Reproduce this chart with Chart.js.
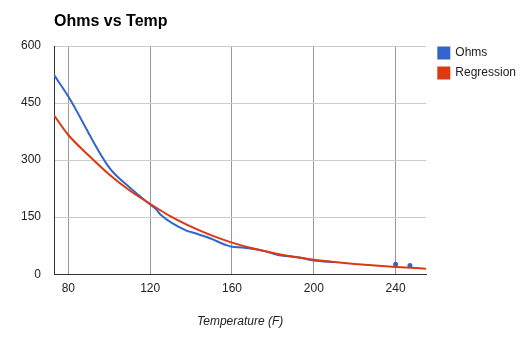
<!DOCTYPE html>
<html>
<head>
<meta charset="utf-8">
<script src="https://cdn.jsdelivr.net/npm/chart.js@4/dist/chart.umd.min.js"></script>
<style>
  html, body { margin: 0; padding: 0; background: #fff; }
  #wrap { width: 532px; height: 339px; }
</style>
</head>
<body>
<div id="wrap"><canvas id="myChart" width="532" height="339"></canvas></div>
<script>
// Measured resistance (Ohms), null = gap in the line
const ohmsTemp = [73, 80, 100, 110, 120, 123, 125, 138, 140, 148, 158, 160, 165, 175, 184, 193, 200, 210, 230, 240, 244, 247];
const ohms     = [524, 467, 280, 228, 183, 170, 157, 114, 111, 97, 75, 72, 70, 62, 49, 44, 36, 32, null, 26, null, 23];

// Regression curve
const regTemp = [73, 80, 90, 100, 110, 120, 130, 140, 150, 160, 170, 180, 190, 200, 210, 220, 230, 240, 250, 255];
const regression = [418, 366, 312, 262, 220, 185, 152, 125, 102, 83, 68, 56, 46, 38, 32, 27, 23, 19, 16, 14];

// Axis ticks
const xTicks = [80, 120, 160, 200, 240];
const yTicks = [0, 150, 300, 450, 600];

const FONT = "'Liberation Sans', Arial, sans-serif";

function toPoints(xs, ys) {
    return xs.map((x, i) => ({ x: x, y: ys[i] }));
}

// draw the title left-aligned with the plot area
const titlePlugin = {
    id: 'leftTitle',
    afterLayout(chart) {
        // nudge the legend up to the top of the plot
        const lg = chart.legend;
        lg.top -= 7; lg.bottom -= 7;
        lg.left += 4; lg.right += 4;
    },
    afterDraw(chart) {
        const c = chart.ctx;
        c.save();
        c.font = 'bold 16px ' + FONT;
        c.fillStyle = '#000';
        c.textBaseline = 'alphabetic';
        c.textAlign = 'left';
        c.fillText('Ohms vs Temp', chart.chartArea.left, 26);
        c.restore();
    }
};

const ctx = document.getElementById('myChart').getContext('2d');
const myChart = new Chart(ctx, {
    type: 'line',
    data: {
        datasets: [{
            label: 'Ohms',
            data: toPoints(ohmsTemp, ohms),
            borderColor: '#3366cc',
            backgroundColor: '#3366cc',
            borderWidth: 2,
            cubicInterpolationMode: 'monotone',
            spanGaps: false,
            order: 1,
            // only lone points (no neighbours) get a dot
            pointRadius: (c) => {
                const d = c.dataset.data;
                const i = c.dataIndex;
                if (d[i].y === null) return 0;
                const prev = i > 0 ? d[i - 1].y : null;
                const next = i < d.length - 1 ? d[i + 1].y : null;
                return (prev === null && next === null) ? 2.5 : 0;
            },
            pointHoverRadius: 0,
            pointBorderWidth: 0,
        }, {
            label: 'Regression',
            data: toPoints(regTemp, regression),
            borderColor: '#dc3912',
            backgroundColor: '#dc3912',
            borderWidth: 2,
            cubicInterpolationMode: 'monotone',
            pointRadius: 0,
            order: 0,
        }]
    },
    options: {
        responsive: false,
        animation: false,
        layout: { padding: { left: 8, right: 10, top: 46, bottom: 10 } },
        plugins: {
            title: { display: false },
            tooltip: { enabled: false },
            legend: {
                position: 'right',
                align: 'start',
                labels: {
                    font: { family: FONT, size: 12 },
                    color: '#222',
                    boxWidth: 11,
                    boxHeight: 11,
                    padding: 8,
                    sort: (a, b) => a.datasetIndex - b.datasetIndex,
                },
            },
        },
        scales: {
            x: {
                type: 'linear',
                min: 73,
                max: 255,
                afterBuildTicks: (axis) => { axis.ticks = xTicks.map(v => ({ value: v })); },
                ticks: {
                    font: { family: FONT, size: 12 },
                    color: '#222',
                    padding: 7,
                    maxRotation: 0,
                },
                grid: { color: '#999', drawTicks: false },
                border: { color: '#333', width: 1 },
                title: {
                    display: true,
                    text: 'Temperature (F)',
                    font: { family: FONT, size: 12, style: 'italic' },
                    color: '#222',
                    padding: { top: 12, bottom: 0 },
                },
            },
            y: {
                min: 0,
                max: 600,
                afterBuildTicks: (axis) => { axis.ticks = yTicks.map(v => ({ value: v })); },
                ticks: {
                    font: { family: FONT, size: 12 },
                    color: '#222',
                    padding: 13,
                },
                grid: {
                    color: (c) => c.tick && c.tick.value === 0 ? 'rgba(0,0,0,0)' : '#ccc',
                    drawTicks: false,
                },
                border: { color: '#333', width: 1 },
            },
        },
    },
    plugins: [titlePlugin],
});
</script>
</body>
</html>
